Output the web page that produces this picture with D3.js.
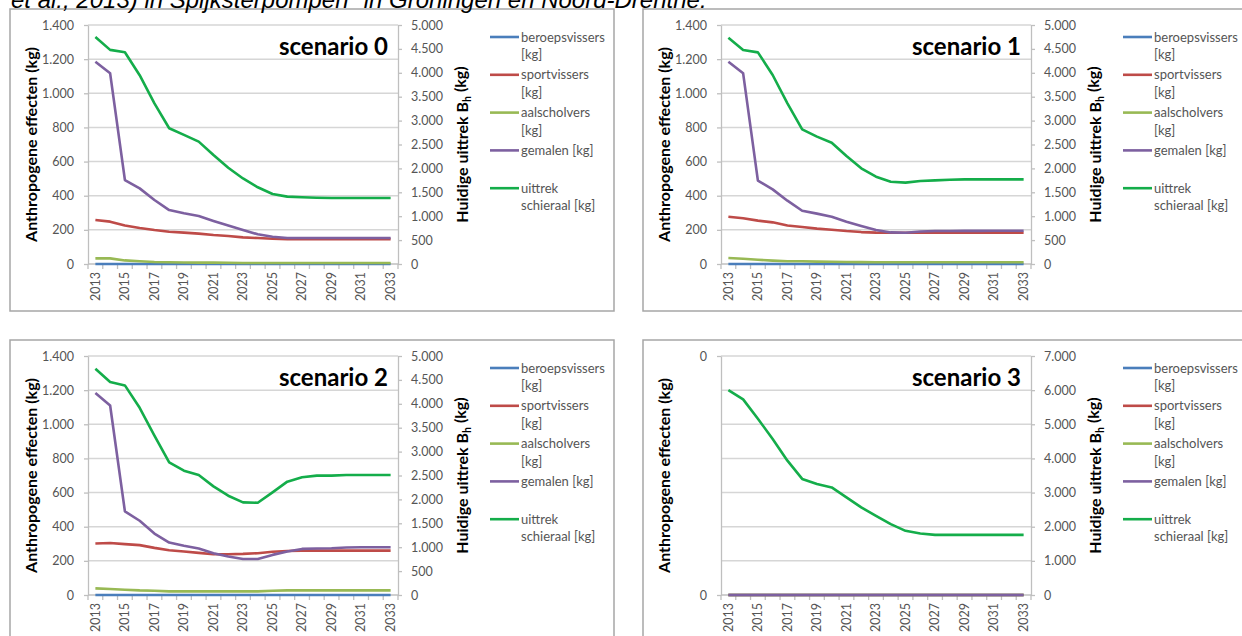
<!DOCTYPE html>
<html>
<head>
<meta charset="utf-8">
<script src="https://cdn.jsdelivr.net/npm/d3@7"></script>
<style>
  body { margin: 0; background: #fff; }
  svg text { font-family: Lato, "Open Sans", sans-serif; }
</style>
</head>
<body>
<svg id="chart" width="1242" height="636"></svg>
<script>
var heading = 'et al., 2013) in Spijksterpompen" in Groningen en Noord-Drenthe.';

var years = [2013, 2014, 2015, 2016, 2017, 2018, 2019, 2020, 2021, 2022, 2023,
             2024, 2025, 2026, 2027, 2028, 2029, 2030, 2031, 2032, 2033];
var yearLabels = [2013, 2015, 2017, 2019, 2021, 2023, 2025, 2027, 2029, 2031, 2033];

var scenarioTitles = ['scenario 0', 'scenario 1', 'scenario 2', 'scenario 3'];
var legendLabels = [['beroepsvissers', '[kg]'], ['sportvissers', '[kg]'], ['aalscholvers', '[kg]'],
                    ['gemalen [kg]'], ['uittrek', 'schieraal [kg]']];
var seriesColors = ['#4a7ebb', '#be4b48', '#98b954', '#7d60a0', '#14ad4a'];

var leftTicks = [0, 200, 400, 600, 800, 1000, 1200, 1400];
var rightTicks = [0, 500, 1000, 1500, 2000, 2500, 3000, 3500, 4000, 4500, 5000];
var leftTicks3 = [0, 1];
var rightTicks3 = [0, 1000, 2000, 3000, 4000, 5000, 6000, 7000];

// scenario 0
var beroeps0 = [0, 0, 0, 0, 0, 0, 0, 0, 0, 0, 0, 0, 0, 0, 0, 0, 0, 0, 0, 0, 0];
var sport0 = [258, 248, 225, 211, 199, 189, 184, 178, 170, 164, 156, 152, 148, 146, 146, 146, 146, 146, 146, 146, 146];
var aal0 = [33, 33, 21, 16, 12, 10, 9, 8, 8, 7, 6, 6, 6, 6, 6, 6, 6, 6, 6, 6, 6];
var gemalen0 = [1185, 1117, 492, 443, 375, 316, 297, 281, 252, 225, 199, 174, 160, 152, 152, 152, 152, 152, 152, 152, 152];
var uittrek0 = [4750, 4480, 4430, 3950, 3360, 2840, 2700, 2560, 2280, 2015, 1790, 1605, 1465, 1410, 1395, 1385, 1380, 1380, 1380, 1380, 1380];

// scenario 1
var beroeps1 = [0, 0, 0, 0, 0, 0, 0, 0, 0, 0, 0, 0, 0, 0, 0, 0, 0, 0, 0, 0, 0];
var sport1 = [277, 268, 254, 244, 226, 217, 207, 201, 193, 187, 184, 183, 183, 183, 183, 183, 183, 183, 183, 183, 183];
var aal1 = [35, 31, 25, 20, 16, 16, 14, 13, 12, 11, 10, 10, 10, 10, 10, 10, 10, 10, 10, 10, 10];
var gemalen1 = [1185, 1117, 488, 437, 371, 312, 295, 277, 248, 223, 199, 185, 183, 190, 193, 193, 194, 194, 195, 195, 195];
var uittrek1 = [4735, 4477, 4428, 3954, 3361, 2817, 2664, 2538, 2259, 2001, 1827, 1722, 1702, 1736, 1750, 1764, 1771, 1771, 1771, 1771, 1771];

// scenario 2
var beroeps2 = [0, 0, 0, 0, 0, 0, 0, 0, 0, 0, 0, 0, 0, 0, 0, 0, 0, 0, 0, 0, 0];
var sport2 = [302, 305, 298, 292, 276, 262, 255, 247, 239, 239, 241, 245, 253, 258, 260, 260, 260, 260, 260, 260, 260];
var aal2 = [39, 35, 31, 27, 25, 21, 21, 21, 21, 21, 21, 21, 25, 27, 27, 27, 27, 27, 27, 27, 27];
var gemalen2 = [1183, 1110, 490, 435, 360, 307, 288, 272, 245, 225, 211, 211, 235, 255, 270, 272, 274, 278, 280, 280, 280];
var uittrek2 = [4734, 4455, 4385, 3916, 3336, 2776, 2601, 2510, 2273, 2077, 1937, 1930, 2147, 2371, 2462, 2497, 2497, 2510, 2510, 2510, 2510];

// scenario 3
var beroeps3 = [0, 0, 0, 0, 0, 0, 0, 0, 0, 0, 0, 0, 0, 0, 0, 0, 0, 0, 0, 0, 0];
var sport3 = [0, 0, 0, 0, 0, 0, 0, 0, 0, 0, 0, 0, 0, 0, 0, 0, 0, 0, 0, 0, 0];
var aal3 = [0, 0, 0, 0, 0, 0, 0, 0, 0, 0, 0, 0, 0, 0, 0, 0, 0, 0, 0, 0, 0];
var gemalen3 = [0, 0, 0, 0, 0, 0, 0, 0, 0, 0, 0, 0, 0, 0, 0, 0, 0, 0, 0, 0, 0];
var uittrek3 = [6000, 5730, 5160, 4570, 3935, 3400, 3250, 3150, 2860, 2565, 2320, 2075, 1880, 1800, 1760, 1760, 1760, 1760, 1760, 1760, 1760];

var nl = d3.formatLocale({decimal: ',', thousands: '.', grouping: [3], currency: ['€', '']});
var fmt = nl.format(',d');

var panels = [
  {title: scenarioTitles[0], left: [beroeps0, sport0, aal0, gemalen0], right: uittrek0,
   leftTicks: leftTicks, rightTicks: rightTicks, leftFormat: fmt, gridOnRight: false},
  {title: scenarioTitles[1], left: [beroeps1, sport1, aal1, gemalen1], right: uittrek1,
   leftTicks: leftTicks, rightTicks: rightTicks, leftFormat: fmt, gridOnRight: false},
  {title: scenarioTitles[2], left: [beroeps2, sport2, aal2, gemalen2], right: uittrek2,
   leftTicks: leftTicks, rightTicks: rightTicks, leftFormat: fmt, gridOnRight: false},
  {title: scenarioTitles[3], left: [beroeps3, sport3, aal3, gemalen3], right: uittrek3,
   leftTicks: leftTicks3, rightTicks: rightTicks3, leftFormat: function() { return '0'; }, gridOnRight: true}
];

var origins = [[10, 9], [643, 9], [10, 340], [643, 340]];
var panelWidth = 604;
var panelHeight = 302;
var plot = {left: 78, right: 388, top: 16, bottom: 255};

var svg = d3.select('#chart');

panels.forEach(function(p, i) {
  var g = svg.append('g')
      .attr('transform', 'translate(' + origins[i][0] + ',' + origins[i][1] + ')');

  g.append('rect')
      .attr('width', panelWidth)
      .attr('height', panelHeight)
      .attr('fill', '#fff')
      .attr('stroke', '#a6a6a6')
      .attr('stroke-width', 1.5);

  var x = d3.scaleBand().domain(years).range([plot.left, plot.right]);
  var bw = x.bandwidth();
  var yLeft = d3.scaleLinear()
      .domain(d3.extent(p.leftTicks))
      .range([plot.bottom, plot.top]);
  var yRight = d3.scaleLinear()
      .domain(d3.extent(p.rightTicks))
      .range([plot.bottom, plot.top]);

  // gridlines
  var gridScale = p.gridOnRight ? yRight : yLeft;
  var gridTicks = p.gridOnRight ? p.rightTicks : p.leftTicks;
  g.append('g')
    .selectAll('line')
    .data(gridTicks.filter(function(d) { return d > 0; }))
    .enter()
    .append('line')
      .attr('x1', plot.left)
      .attr('x2', plot.right)
      .attr('y1', function(d) { return gridScale(d); })
      .attr('y2', function(d) { return gridScale(d); })
      .attr('stroke', '#d6d6d6')
      .attr('stroke-width', 1.5);

  // left axis
  var leftAxis = d3.axisLeft(yLeft)
      .tickValues(p.leftTicks)
      .tickFormat(p.leftFormat)
      .tickSize(4)
      .tickSizeOuter(0)
      .tickPadding(10);
  var la = g.append('g')
      .attr('transform', 'translate(' + plot.left + ',0)')
      .call(leftAxis);

  // right axis
  var rightAxis = d3.axisRight(yRight)
      .tickValues(p.rightTicks)
      .tickFormat(fmt)
      .tickSize(4)
      .tickSizeOuter(0)
      .tickPadding(9);
  var ra = g.append('g')
      .attr('transform', 'translate(' + plot.right + ',0)')
      .call(rightAxis);

  [la, ra].forEach(function(a) {
    a.select('.domain').attr('stroke', '#bfbfbf').attr('stroke-width', 1.3);
    a.selectAll('.tick line').attr('stroke', '#bfbfbf').attr('stroke-width', 1.3);
    a.selectAll('.tick text')
        .attr('fill', '#555')
        .style('font-size', '12.5px')
        .style('font-family', 'Lato, sans-serif');
  });

  // x axis
  var xa = g.append('g');
  xa.append('line')
      .attr('x1', plot.left)
      .attr('x2', plot.right)
      .attr('y1', plot.bottom)
      .attr('y2', plot.bottom)
      .attr('stroke', '#bfbfbf')
      .attr('stroke-width', 1.3);
  xa.selectAll('line.tick')
    .data(years.concat(['end']))
    .enter()
    .append('line')
      .classed('tick', true)
      .attr('x1', function(d) { return d === 'end' ? plot.right : x(d); })
      .attr('x2', function(d) { return d === 'end' ? plot.right : x(d); })
      .attr('y1', plot.bottom)
      .attr('y2', plot.bottom + 5)
      .attr('stroke', '#bfbfbf')
      .attr('stroke-width', 1.3);
  xa.selectAll('text')
    .data(yearLabels)
    .enter()
    .append('text')
      .attr('transform', function(d) {
        return 'translate(' + (x(d) + bw / 2) + ',' + (plot.bottom + 8) + ') rotate(-90)';
      })
      .attr('dy', '0.35em')
      .attr('text-anchor', 'end')
      .attr('fill', '#555')
      .style('font-size', '12.5px')
      .text(function(d) { return d; });

  // lines
  var lineLeft = d3.line()
      .x(function(d, j) { return x(years[j]) + bw / 2; })
      .y(function(d) { return yLeft(d); });
  var lineRight = d3.line()
      .x(function(d, j) { return x(years[j]) + bw / 2; })
      .y(function(d) { return yRight(d); });

  g.append('g')
    .selectAll('path')
    .data(p.left)
    .enter()
    .append('path')
      .attr('d', lineLeft)
      .attr('fill', 'none')
      .attr('stroke', function(d, j) { return seriesColors[j]; })
      .attr('stroke-width', 2.6)
      .attr('stroke-linejoin', 'round');

  g.append('path')
      .datum(p.right)
      .attr('d', lineRight)
      .attr('fill', 'none')
      .attr('stroke', seriesColors[4])
      .attr('stroke-width', 2.6)
      .attr('stroke-linejoin', 'round');

  // title
  g.append('text')
      .attr('x', 378)
      .attr('y', 46)
      .attr('text-anchor', 'end')
      .style('font-size', '24px')
      .style('font-weight', 'bold')
      .text(p.title);

  // axis titles
  g.append('text')
      .attr('transform', 'translate(21,' + ((plot.top + plot.bottom) / 2) + ') rotate(-90)')
      .attr('text-anchor', 'middle')
      .attr('dy', '0.35em')
      .style('font-size', '16px')
      .style('font-weight', 'bold')
      .text('Anthropogene effecten (kg)');

  var rt = g.append('text')
      .attr('transform', 'translate(452,' + ((plot.top + plot.bottom) / 2) + ') rotate(-90)')
      .attr('text-anchor', 'middle')
      .attr('dy', '0.35em')
      .style('font-size', '16px')
      .style('font-weight', 'bold');
  rt.append('tspan').text('Huidige uittrek B');
  rt.append('tspan').attr('dy', '0.3em').style('font-size', '10.5px').text('h');
  rt.append('tspan').attr('dy', '-0.3em').text(' (kg)');

  // legend
  var lg = g.append('g')
    .selectAll('g')
    .data(legendLabels)
    .enter()
    .append('g')
      .attr('transform', function(d, j) { return 'translate(480,' + (28 + j * 37.8) + ')'; });
  lg.append('line')
      .attr('x1', 0)
      .attr('x2', 29)
      .attr('stroke', function(d, j) { return seriesColors[j]; })
      .attr('stroke-width', 2.6);
  lg.append('text')
      .attr('x', 31)
      .attr('fill', '#555')
      .style('font-size', '13px')
    .selectAll('tspan')
    .data(function(d) { return d; })
    .enter()
    .append('tspan')
      .attr('x', 31)
      .attr('y', function(d, k) { return k * 17.7; })
      .attr('dy', '0.35em')
      .text(function(d) { return d; });
});

// page text above the figure, partly cut off at the top edge
svg.append('text')
    .attr('x', 11)
    .attr('y', 8)
    .style('font-family', '"Liberation Sans", Arial, sans-serif')
    .style('font-style', 'italic')
    .style('font-size', '24px')
    .text(heading);
</script>
</body>
</html>
